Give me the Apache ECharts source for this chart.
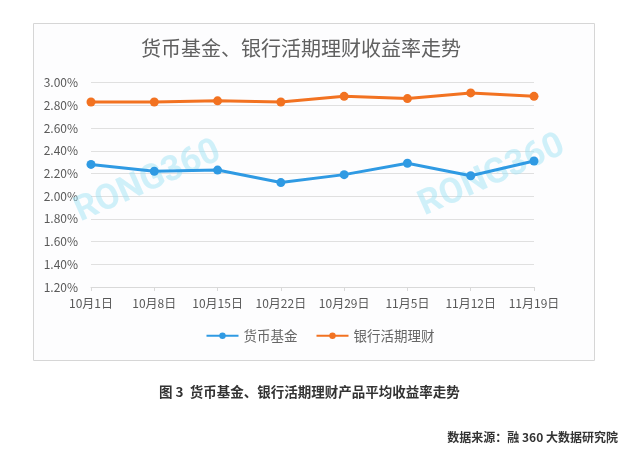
<!DOCTYPE html>
<html><head><meta charset="utf-8">
<script src="https://cdn.jsdelivr.net/npm/echarts@6/dist/echarts.min.js"></script>
<style>html,body{margin:0;padding:0;background:#fff}#c{width:640px;height:469px}</style>
</head><body><div id="c"></div>
<script>
const categories = ['10月1日','10月8日','10月15日','10月22日','10月29日','11月5日','11月12日','11月19日'];
const moneyFund = [2.28, 2.22, 2.23, 2.12, 2.19, 2.29, 2.18, 2.31];
const bankDemand = [2.83, 2.83, 2.84, 2.83, 2.88, 2.86, 2.91, 2.88];
const seriesNames = ['货币基金', '银行活期理财'];
const titleText = '货币基金、银行活期理财收益率走势';
const captionText = '图 3  货币基金、银行活期理财产品平均收益率走势';
const sourceText = '数据来源：融 360 大数据研究院';
const watermark = 'RONG360';

const font = '"Noto Sans CJK SC", "Noto Sans", sans-serif';
const chart = echarts.init(document.getElementById('c'));
chart.setOption({
  backgroundColor: '#ffffff',
  animation: false,
  title: {
    text: titleText, left: 136, top: 33,
    textStyle: { fontFamily: font, fontSize: 20, fontWeight: 'normal', color: '#606060' }
  },
  legend: {
    data: seriesNames, left: 'center', top: 329, itemWidth: 32, itemHeight: 8, itemGap: 18,
    textStyle: { fontFamily: font, fontSize: 13.5, color: '#666' },
    padding: [0, 0, 0, 0]
  },
  grid: { left: 91, right: 106, top: 82.7, bottom: 182, containLabel: false },
  xAxis: {
    type: 'category', data: categories, boundaryGap: false,
    axisLine: { lineStyle: { color: '#d9d9d9' } },
    axisTick: { show: true, alignWithLabel: true, lineStyle: { color: '#d9d9d9' }, length: 4 },
    axisLabel: { fontFamily: font, fontSize: 12, color: '#595959', margin: 10, interval: 0 }
  },
  yAxis: {
    type: 'value', min: 1.2, max: 3.0, interval: 0.2,
    axisLine: { show: false }, axisTick: { show: false },
    splitLine: { lineStyle: { color: '#e0e0e0' } },
    axisLabel: { fontFamily: font, fontSize: 12, color: '#595959', margin: 13,
      formatter: v => v.toFixed(2) + '%' }
  },
  series: [
    { name: seriesNames[0], type: 'line', data: moneyFund, symbol: 'circle', symbolSize: 9,
      lineStyle: { width: 3, color: '#2f9ae3' }, itemStyle: { color: '#2f9ae3' }, z: 3 },
    { name: seriesNames[1], type: 'line', data: bankDemand, symbol: 'circle', symbolSize: 9,
      lineStyle: { width: 3, color: '#f27221' }, itemStyle: { color: '#f27221' }, z: 3 }
  ],
  graphic: [
    { type: 'rect', z: -10, shape: { x: 33.5, y: 23.5, width: 561, height: 337 },
      style: { fill: '#fdfdfe', stroke: '#d6d6d6', lineWidth: 1 } },
    { type: 'text', z: 1, x: 148, y: 182, rotation: Math.PI / 7.5,
      style: { text: watermark, fontFamily: 'Roboto, sans-serif', fontSize: 35, fontWeight: 'bold',
        fill: 'rgba(150,225,245,0.45)', align: 'center', verticalAlign: 'middle' } },
    { type: 'text', z: 1, x: 492, y: 176, rotation: Math.PI / 7.5,
      style: { text: watermark, fontFamily: 'Roboto, sans-serif', fontSize: 35, fontWeight: 'bold',
        fill: 'rgba(150,225,245,0.45)', align: 'center', verticalAlign: 'middle' } },
    { type: 'text', x: 159, y: 392,
      style: { text: captionText, fontFamily: font, fontSize: 13.5, fontWeight: 'bold', fill: '#333',
        verticalAlign: 'middle' } },
    { type: 'text', x: 618, y: 437,
      style: { text: sourceText, fontFamily: font, fontSize: 12, fontWeight: 'bold', fill: '#333',
        align: 'right', verticalAlign: 'middle' } }
  ]
});
</script></body></html>
